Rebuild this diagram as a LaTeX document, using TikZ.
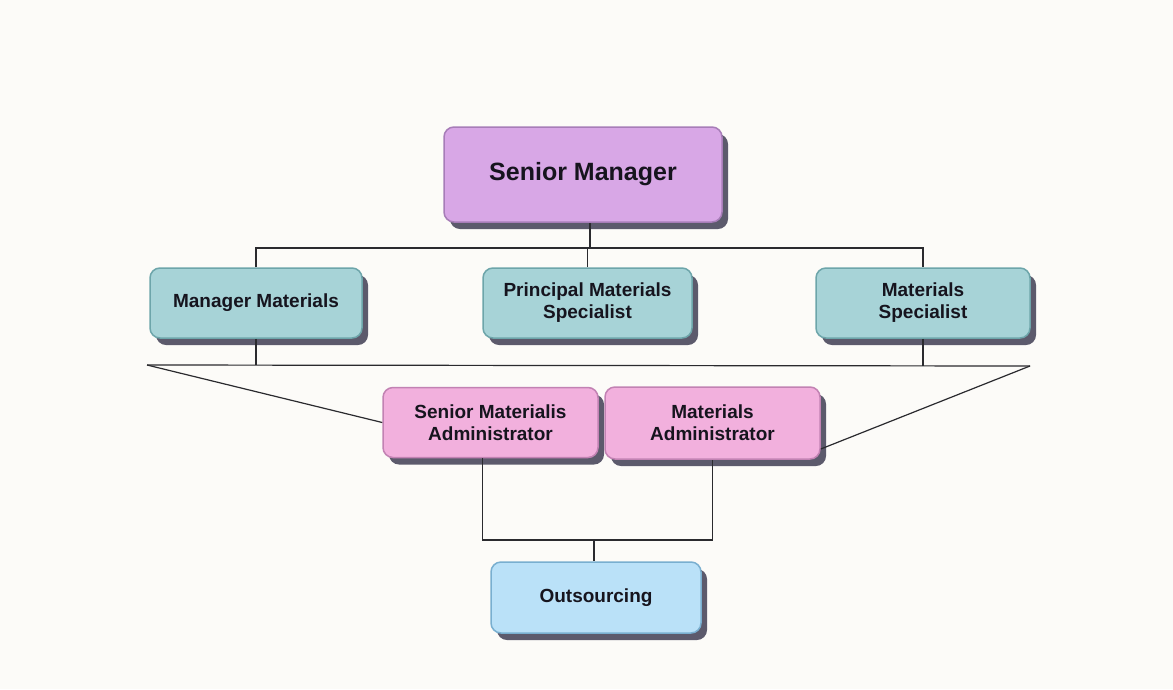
\documentclass[tikz,border=0pt]{standalone}
\usepackage{fontspec}
\setmainfont{Liberation Sans}
\usetikzlibrary{shadows}
\definecolor{bgcol}{HTML}{FCFBF8}
\definecolor{linecol}{HTML}{2A2A2E}
\definecolor{shadowcol}{HTML}{5C5A6C}
\definecolor{textcol}{HTML}{16141E}
\definecolor{purplefill}{HTML}{D8A7E6}
\definecolor{purpleline}{HTML}{A77DB8}
\definecolor{tealfill}{HTML}{A7D3D7}
\definecolor{tealline}{HTML}{6DA5AA}
\definecolor{pinkfill}{HTML}{F2B0DD}
\definecolor{pinkline}{HTML}{C282B3}
\definecolor{bluefill}{HTML}{BAE1F8}
\definecolor{blueline}{HTML}{79AFD0}
\begin{document}
\begin{tikzpicture}[x=1pt, y=-1pt]
	\tikzstyle{Box} = [rectangle, rounded corners=10pt, draw, line width=1.5pt, inner sep=0pt, align=center, text=textcol, font=\bfseries\fontsize{19}{22}\selectfont, drop shadow={shadow xshift=6pt, shadow yshift=-7pt, fill=shadowcol, opacity=1}]
	\tikzstyle{Link} = [draw=linecol, line width=1.2pt]
	\fill[bgcol] (0,0) rectangle (1173,689);
	\node (1) at (583,174.5) [Box, fill=purplefill, draw=purpleline, minimum width=278, minimum height=95, font=\bfseries\fontsize{25}{29}\selectfont] {Senior Manager};
	\node (2) at (256,303) [Box, fill=tealfill, draw=tealline, minimum width=212, minimum height=70] {Manager Materials};
	\node (3) at (587.5,303) [Box, fill=tealfill, draw=tealline, minimum width=209, minimum height=70] {Principal Materials\\Specialist};
	\node (4) at (923,303) [Box, fill=tealfill, draw=tealline, minimum width=214, minimum height=70] {Materials\\Specialist};
	\node (5) at (490.5,422.5) [Box, fill=pinkfill, draw=pinkline, minimum width=215, minimum height=70] {Senior Materialis\\Administrator};
	\node (6) at (712.5,423) [Box, fill=pinkfill, draw=pinkline, minimum width=215, minimum height=72] {Materials\\Administrator};
	\node (7) at (596,597.5) [Box, fill=bluefill, draw=blueline, minimum width=210, minimum height=71] {Outsourcing};
	\coordinate (a) at (590,248);
	\coordinate (l) at (147,365);
	\coordinate (r) at (1030,366);
	\coordinate (b) at (594,540);
	\draw [Link] (a) -- (a |- 1.south);
	\draw [Link] (2) |- (a) -| (4);
	\draw [Link] (3) -- (3 |- a);
	\draw [Link] (l) -- (r);
	\draw [Link] (2) -- (2 |- l);
	\draw [Link] (4) -- (4 |- r);
	\draw [Link] (l) -- (5.west);
	\draw [Link] (r) -- ([yshift=-26pt]6.east);
	\draw [Link] ([xshift=-8pt]5.south) |- (b) -| (6);
	\draw [Link] (b) -- (b |- 7.north);
\end{tikzpicture}
\end{document}
